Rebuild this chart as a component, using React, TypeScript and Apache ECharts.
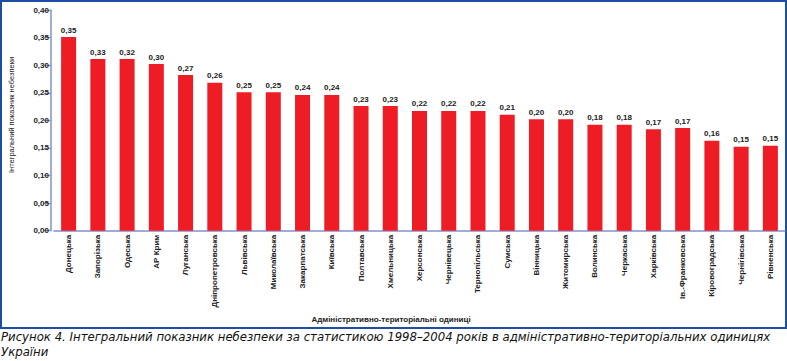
import React, { useEffect, useRef } from "react";
import * as echarts from "echarts";

const categories = [
  "Донецька", "Запорізька", "Одеська", "АР Крим", "Луганська", "Дніпропетровська",
  "Львівська", "Миколаївська", "Закарпатська", "Київська", "Полтавська", "Хмельницька",
  "Херсонська", "Чернівецька", "Тернопільська", "Сумська", "Вінницька", "Житомирська",
  "Волинська", "Черкаська", "Харківська", "Ів.-Франковська", "Кіровоградська",
  "Чернігівська", "Рівненська",
];

// bar heights as drawn in the picture
const barValues = [
  0.351, 0.311, 0.311, 0.302, 0.282, 0.268, 0.251, 0.251, 0.246, 0.246, 0.226, 0.226,
  0.217, 0.217, 0.217, 0.21, 0.202, 0.202, 0.192, 0.192, 0.184, 0.186, 0.163, 0.152, 0.154,
];

// value labels as printed above the bars
const printedLabels = [
  "0,35", "0,33", "0,32", "0,30", "0,27", "0,26", "0,25", "0,25", "0,24", "0,24", "0,23", "0,23",
  "0,22", "0,22", "0,22", "0,21", "0,20", "0,20", "0,18", "0,18", "0,17", "0,17", "0,16", "0,15", "0,15",
];

const yAxisTitle = "Інтегральний показник небезпеки";
const xAxisTitle = "Адміністративно-територіальні одиниці";
const captionLine1 =
  "Рисунок 4. Інтегральний показник небезпеки за статистикою 1998–2004 років в адміністративно-територіальних одиницях";
const captionLine2 = "України";

export default function App() {
  const ref = useRef<HTMLDivElement>(null);
  useEffect(() => {
    if (!ref.current) return;
    const chart = echarts.init(ref.current, null, { renderer: "svg" });
    const axisColor = "#8290cc";
    const font = "'Liberation Sans', Arial, sans-serif";
    const captionStyle = {
      fontSize: 12,
      fontStyle: "italic",
      fontFamily: "'DejaVu Sans Condensed', 'DejaVu Sans', sans-serif",
      fill: "#111",
      align: "left",
      verticalAlign: "middle",
    };
    chart.setOption({
      animation: false,
      backgroundColor: "#ffffff",
      grid: { left: 54, top: 10, width: 731, height: 220.7 },
      xAxis: {
        type: "category",
        data: categories,
        axisLine: { lineStyle: { color: axisColor, width: 1.5 } },
        axisTick: { show: false },
        axisLabel: {
          interval: 0,
          rotate: 90,
          fontSize: 8,
          fontWeight: "bold",
          fontFamily: font,
          color: "#222",
          margin: 4,
        },
      },
      yAxis: {
        type: "value",
        min: 0,
        max: 0.4,
        interval: 0.05,
        offset: 3,
        axisLine: { show: true, lineStyle: { color: axisColor, width: 1.5 } },
        axisTick: { show: true, length: 7, lineStyle: { color: axisColor, width: 1.2 } },
        splitLine: { show: false },
        axisLabel: {
          fontSize: 8,
          fontWeight: "bold",
          fontFamily: font,
          color: "#222",
          margin: 2,
          formatter: (v: number) => v.toFixed(2).replace(".", ","),
        },
      },
      series: [
        {
          type: "bar",
          data: barValues,
          barWidth: 15,
          itemStyle: { color: "#ee1c25" },
          label: {
            show: true,
            position: "top",
            distance: 3,
            fontSize: 8,
            fontWeight: "bold",
            fontFamily: font,
            color: "#222",
            formatter: (p: any) => printedLabels[p.dataIndex],
          },
        },
      ],
      graphic: [
        {
          type: "rect",
          shape: { x: 1, y: 1, width: 785, height: 327 },
          style: { fill: "none", stroke: "#1d4ea0", lineWidth: 2 },
          silent: true,
        },
        {
          type: "text",
          x: 11,
          y: 115,
          rotation: Math.PI / 2,
          style: {
            text: yAxisTitle,
            fontSize: 7.5,
            fontFamily: font,
            fill: "#222",
            align: "center",
            verticalAlign: "middle",
          },
        },
        {
          type: "text",
          x: 391,
          y: 319,
          style: {
            text: xAxisTitle,
            fontSize: 8,
            fontWeight: "bold",
            fontFamily: font,
            fill: "#222",
            align: "center",
            verticalAlign: "middle",
          },
        },
        {
          type: "text",
          x: 1,
          y: 337,
          scaleX: 1.085,
          style: { ...captionStyle, text: captionLine1 },
        },
        {
          type: "text",
          x: 1,
          y: 351.5,
          scaleX: 1.085,
          style: { ...captionStyle, text: captionLine2 },
        },
      ],
    });
    return () => chart.dispose();
  }, []);
  return (
    <div
      ref={ref}
      style={{ position: "fixed", left: 0, top: 0, width: 787, height: 361 }}
    />
  );
}
